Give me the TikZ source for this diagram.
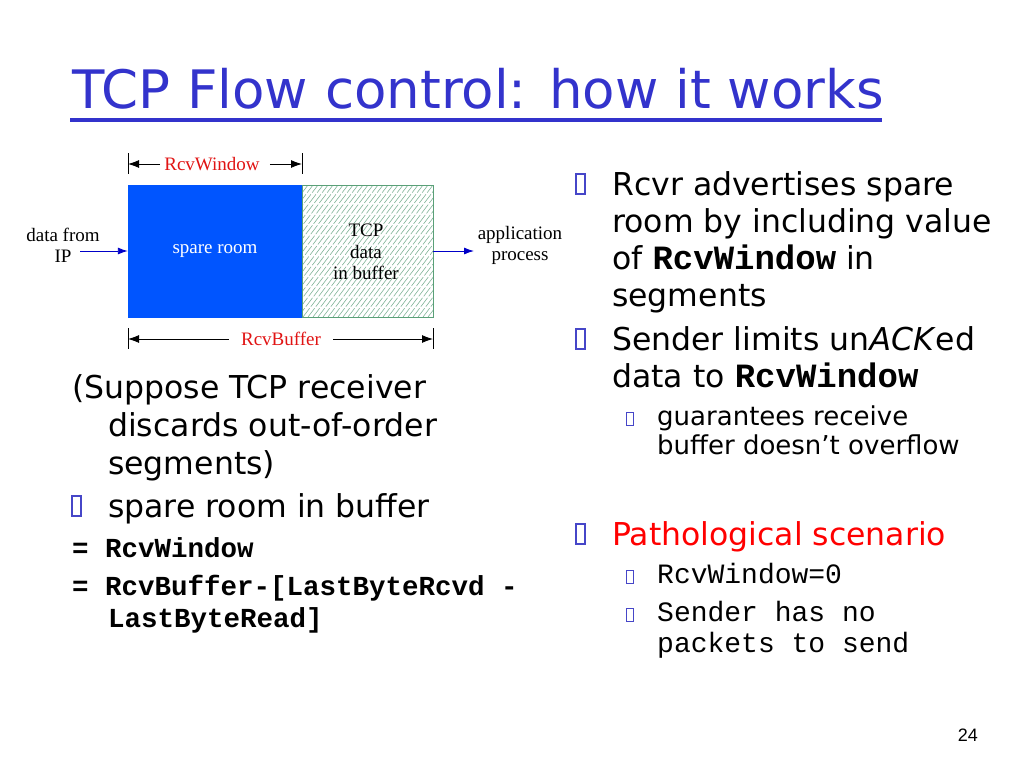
\documentclass[tikz,border=0pt]{standalone}
\usepackage{fontspec}
\setmainfont{DejaVu Sans}
\newfontfamily\tnr{Liberation Serif}
\newfontfamily\cour{Liberation Mono}
\newfontfamily\arial{Liberation Sans}
\usetikzlibrary{arrows.meta}
\definecolor{titleblue}{RGB}{51,51,204}
\definecolor{bulletblue}{RGB}{70,70,200}
\definecolor{bufblue}{RGB}{0,85,255}
\definecolor{hatchgreen}{RGB}{120,175,145}
\definecolor{edgegreen}{RGB}{90,160,120}
\definecolor{lblred}{RGB}{225,20,20}
\definecolor{flowblue}{RGB}{0,0,200}
\newcommand\cwin[1]{{\cour\bfseries\fontsize{34}{37}\selectfont #1}}
\begin{document}
\begin{tikzpicture}[x=1pt,y=-1pt,
  txt/.style={anchor=base west, inner sep=0pt, font=\fontsize{31.5}{37}\selectfont},
  subtxt/.style={anchor=base west, inner sep=0pt, font=\fontsize{26}{30}\selectfont},
  code/.style={anchor=base west, inner sep=0pt, font=\cour\bfseries\fontsize{27.5}{32}\selectfont},
  subcode/.style={anchor=base west, inner sep=0pt, font=\cour\fontsize{28}{32}\selectfont},
  bulbox/.style={draw=bulletblue, line width=1.1pt, inner sep=0pt, minimum width=9pt, minimum height=20pt},
  subbox/.style={draw=bulletblue, line width=1pt, inner sep=0pt, minimum width=7pt, minimum height=13pt},
  diag/.style={inner sep=0pt, font=\tnr\fontsize{19}{21.5}\selectfont, align=center},
  redlbl/.style={inner ysep=0pt, text=lblred, font=\tnr\fontsize{19}{21}\selectfont},
  dim/.style={line width=0.9pt, -{Latex[length=11pt,width=8pt]}},
  bar/.style={line width=1pt},
  flow/.style={flowblue, line width=0.9pt, -{Latex[length=10pt,width=7pt]}}]
\useasboundingbox[fill=white] (0,0) rectangle (1024,768);

% title
\node[anchor=base west, inner sep=0pt, text=titleblue, font=\fontsize{53}{60}\selectfont] (title) at (72,108) {TCP Flow control: how it works};
\coordinate (ulA) at (70,119.5);
\coordinate (ulB) at (882,119.5);
\draw[titleblue, line width=4pt] (ulA) -- (ulB);

% diagram
\node[fill=bufblue, draw=bufblue, minimum width=174pt, minimum height=132pt, inner sep=0pt,
      text=white, font=\tnr\fontsize{19}{21}\selectfont] (spare) at (215,251) {spare room};
\begin{scope}
  \clip (302,185) rectangle (433,317);
  \foreach \x in {198,203,...,438}
    \draw[hatchgreen, line width=0.55pt, dash pattern=on 11pt off 2pt] (\x,317) -- ++(100,-132);
\end{scope}
\node[draw=edgegreen, line width=0.9pt, minimum width=131pt, minimum height=132pt, inner sep=0pt] (tcp) at (367.5,251) {};
\node[diag] (tcptxt) at (366,252) {TCP\\data\\in buffer};

\node[diag] (dfrom) at (63,245.5) {data from\\IP};
\node[diag] (app) at (520,245.5) {application\\process};
\coordinate (inStart) at (80,251);
\coordinate (outEnd) at (474,251);
\draw[flow] (inStart) -- (spare.west);
\draw[flow] (tcp.east) -- (outEnd);

% RcvWindow dimension
\coordinate (rwL) at (128,164);
\coordinate (rwR) at (302,164);
\draw[bar] (128,153) -- (128,174);
\draw[bar] (302,153) -- (302,174);
\node[redlbl, inner xsep=4pt] (rw) at (212,164) {RcvWindow};
\draw[dim] (rw.west) -- (rwL);
\draw[dim] (rw.east) ++(6,0) coordinate (rwE) (rwE) -- (rwR);

% RcvBuffer dimension
\coordinate (rbL) at (128,339);
\coordinate (rbR) at (433,339);
\draw[bar] (128,328) -- (128,349);
\draw[bar] (433,328) -- (433,349);
\node[redlbl, inner xsep=12pt] (rb) at (281,339) {RcvBuffer};
\draw[dim] (rb.west) -- (rbL);
\draw[dim] (rb.east) -- (rbR);

% left column
\node[txt] (l1) at (72,398) {(Suppose TCP receiver};
\node[txt] (l2) at (108,436) {discards out-of-order};
\node[txt] (l3) at (108,474) {segments)};
\node[bulbox] (lb1) at (76.5,506) {};
\node[txt] (l4) at (108,517) {spare room in buffer};
\node[code] (l5) at (72,557) {= RcvWindow};
\node[code] (l6) at (72,595) {= RcvBuffer-[LastByteRcvd -};
\node[code] (l7) at (108,627) {LastByteRead]};

% right column
\node[bulbox] (rb1) at (580.5,184) {};
\node[txt] (r1) at (612,195) {Rcvr advertises spare};
\node[txt] (r2) at (612,232) {room by including value};
\node[txt] (r3) at (612,269) {of \cwin{RcvWindow} in};
\node[txt] (r4) at (612,306) {segments};
\node[bulbox] (rb2) at (580.5,339) {};
\node[txt] (r5) at (612,350) {Sender limits un\textit{ACK}ed};
\node[txt] (r6) at (612,387) {data to \cwin{RcvWindow}};
\node[subbox] (sb1) at (630,419) {};
\node[subtxt] (r7) at (657,425) {guarantees receive};
\node[subtxt] (r8) at (657,454) {buffer doesn’t overflow};

\node[bulbox] (rb3) at (580.5,534) {};
\node[txt, text=red] (r9) at (612,545) {Pathological scenario};
\node[subbox] (sb2) at (630,577) {};
\node[subcode] (r10) at (657,583) {RcvWindow=0};
\node[subbox] (sb3) at (630,615) {};
\node[subcode] (r11) at (657,621) {Sender has no};
\node[subcode] (r12) at (657,652) {packets to send};

% page number
\node[anchor=base east, inner sep=0pt, font=\arial\fontsize{18}{20}\selectfont] (pg) at (978,741) {24};
\end{tikzpicture}
\end{document}
